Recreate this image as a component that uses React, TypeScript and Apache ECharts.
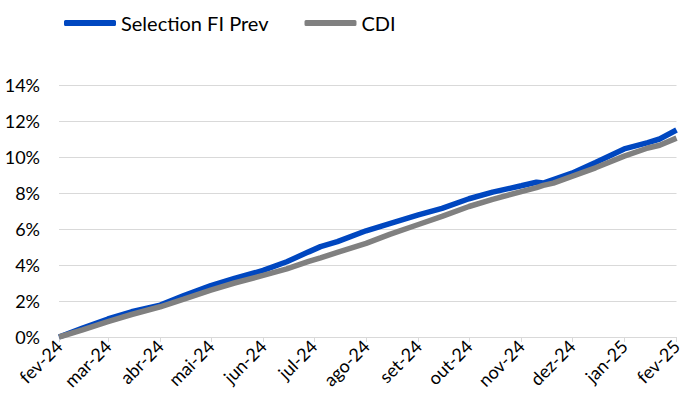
import React, { useEffect, useRef } from "react";
import * as echarts from "echarts";

const dates: string[] = [
  "2024-02-01", "2024-02-15", "2024-03-01", "2024-03-15", "2024-04-01", "2024-04-15",
  "2024-05-01", "2024-05-15", "2024-06-01", "2024-06-15", "2024-06-28", "2024-07-05",
  "2024-07-15", "2024-08-01", "2024-08-15", "2024-09-01", "2024-09-15", "2024-10-01",
  "2024-10-15", "2024-11-01", "2024-11-10", "2024-11-14", "2024-11-20", "2024-12-01",
  "2024-12-15", "2025-01-01", "2025-01-15", "2025-01-22", "2025-02-01",
];

const selectionValues: number[] = [
  0.0, 0.5, 1.0, 1.4, 1.77, 2.3,
  2.85, 3.25, 3.7, 4.18, 4.73, 5.02,
  5.3, 5.9, 6.3, 6.78, 7.15, 7.68,
  8.05, 8.4, 8.6, 8.55, 8.75, 9.1,
  9.7, 10.45, 10.8, 11.0, 11.5,
];

const cdiValues: number[] = [
  0.0, 0.4, 0.85, 1.25, 1.68, 2.1,
  2.6, 3.0, 3.42, 3.78, 4.2, 4.4,
  4.7, 5.2, 5.7, 6.25, 6.7, 7.25,
  7.65, 8.08, 8.3, 8.42, 8.55, 8.92,
  9.4, 10.05, 10.5, 10.65, 11.05,
];

const monthTicks: string[] = [
  "2024-02-01", "2024-03-01", "2024-04-01", "2024-05-01", "2024-06-01", "2024-07-01",
  "2024-08-01", "2024-09-01", "2024-10-01", "2024-11-01", "2024-12-01", "2025-01-01", "2025-02-01",
];

const monthLabels: string[] = [
  "fev-24", "mar-24", "abr-24", "mai-24", "jun-24", "jul-24",
  "ago-24", "set-24", "out-24", "nov-24", "dez-24", "jan-25", "fev-25",
];

const yTicks: number[] = [0, 2, 4, 6, 8, 10, 12, 14];

const DAY = 86400000;
function dayIndex(s: string): number {
  const [y, m, d] = s.split("-").map(Number);
  return Math.round((Date.UTC(y, m - 1, d) - Date.UTC(2024, 1, 1)) / DAY);
}

export default function App() {
  const ref = useRef<HTMLDivElement>(null);
  useEffect(() => {
    document.body.style.margin = "0";
    if (!ref.current) return;
    const chart = echarts.init(ref.current, undefined, { renderer: "svg" });
    const font = "Lato, 'Open Sans', sans-serif";
    const tickDays = monthTicks.map(dayIndex);
    chart.setOption({
      animation: false,
      backgroundColor: "#ffffff",
      legend: {
        left: 59,
        top: 8,
        itemWidth: 52,
        itemHeight: 6,
        itemGap: 36,
        icon: "roundRect",
        textStyle: { fontFamily: font, fontSize: 20, color: "#000" },
        data: ["Selection FI Prev", "CDI"],
      },
      grid: { left: 59, right: 3, top: 85, bottom: 74, containLabel: false },
      xAxis: {
        type: "value",
        min: tickDays[0],
        max: tickDays[tickDays.length - 1],
        axisLine: { show: true, lineStyle: { color: "#d9d9d9", width: 1 } },
        axisTick: { show: true, length: 5, lineStyle: { color: "#d9d9d9" }, customValues: tickDays },
        splitLine: { show: false },
        axisLabel: {
          customValues: tickDays,
          rotate: 45,
          margin: 6,
          fontFamily: font,
          fontSize: 18,
          color: "#000",
          hideOverlap: false,
          showMinLabel: true,
          showMaxLabel: true,
          formatter: (v: number) => {
            const i = tickDays.indexOf(Math.round(v));
            return i >= 0 ? monthLabels[i] : "";
          },
        },
      },
      yAxis: {
        type: "value",
        min: yTicks[0],
        max: yTicks[yTicks.length - 1],
        interval: 2,
        axisLine: { show: false },
        axisTick: { show: false },
        splitLine: { show: true, lineStyle: { color: "#d9d9d9", width: 1 } },
        axisLabel: {
          margin: 19,
          fontFamily: font,
          fontSize: 18,
          color: "#000",
          formatter: (v: number) => v + "%",
        },
      },
      series: [
        {
          name: "Selection FI Prev",
          type: "line",
          showSymbol: false,
          color: "#0047c0",
          lineStyle: { width: 5.5, color: "#0047c0" },
          data: dates.map((d, i) => [dayIndex(d), selectionValues[i]]),
        },
        {
          name: "CDI",
          type: "line",
          showSymbol: false,
          color: "#808080",
          lineStyle: { width: 5.5, color: "#808080" },
          data: dates.map((d, i) => [dayIndex(d), cdiValues[i]]),
        },
      ],
    });
    return () => chart.dispose();
  }, []);
  return <div ref={ref} style={{ width: 685, height: 411 }} />;
}
